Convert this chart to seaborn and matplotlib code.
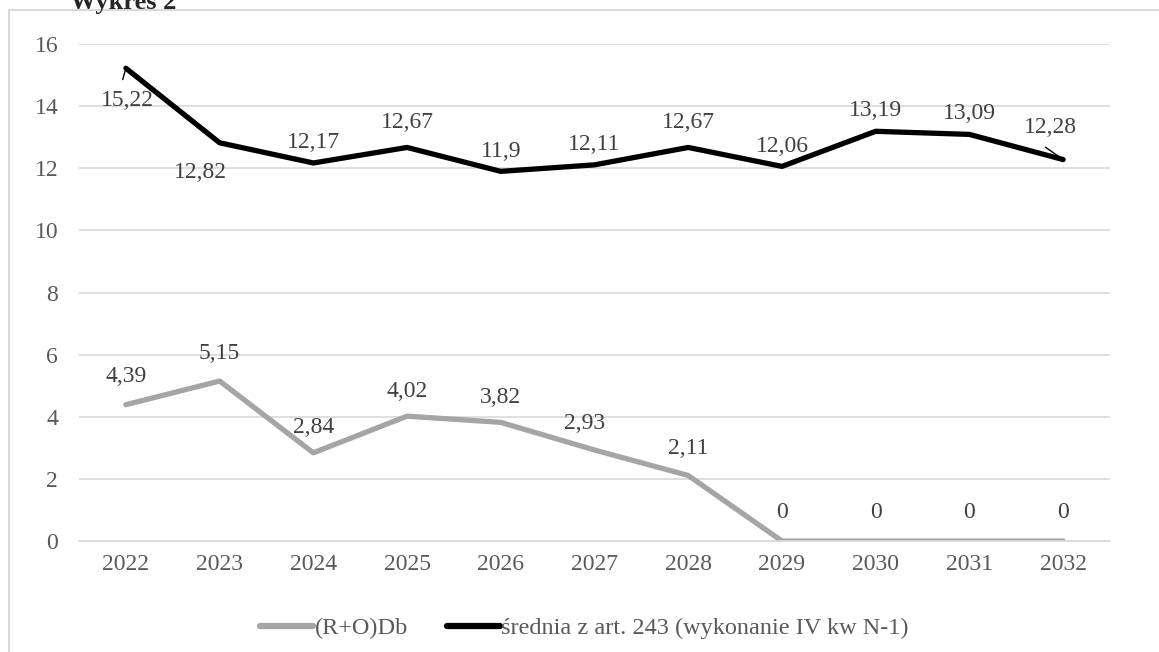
import pandas as pd
import numpy as np
import matplotlib.pyplot as plt
import matplotlib.patches as mpatches
import seaborn as sns

# values
years = ["2022", "2023", "2024", "2025", "2026", "2027", "2028", "2029", "2030", "2031", "2032"]
rodb = [4.39, 5.15, 2.84, 4.02, 3.82, 2.93, 2.11, 0, 0, 0, 0]
srednia = [15.22, 12.82, 12.17, 12.67, 11.9, 12.11, 12.67, 12.06, 13.19, 13.09, 12.28]
series_names = ["(R+O)Db", "średnia z art. 243 (wykonanie IV kw N-1)"]
y_ticks = [0, 2, 4, 6, 8, 10, 12, 14, 16]

df = pd.DataFrame({
    "Rok": years * 2,
    "Wartość": rodb + srednia,
    "Seria": [series_names[0]] * len(years) + [series_names[1]] * len(years),
})

sns.set_style("white")
plt.rcParams["font.family"] = ["Liberation Serif", "DejaVu Serif"]

fig = plt.figure(figsize=(11.59, 6.52), dpi=100)
ax = fig.add_axes([0.0682, 0.1702, 0.8895, 0.7623])

sns.lineplot(data=df, x="Rok", y="Wartość", hue="Seria", sort=False,
             palette=["#A5A5A5", "#000000"], linewidth=3.8, ax=ax,
             solid_capstyle="round", solid_joinstyle="round")

ax.set_xlim(-0.5, len(years) - 0.5)
ax.set_ylim(0, 16)
ax.set_yticks(y_ticks)
ax.set_yticklabels([str(t) for t in y_ticks])
ax.yaxis.grid(True, color="#D9D9D9", linewidth=1.2)
ax.set_axisbelow(True)
for s in ["top", "right", "left"]:
    ax.spines[s].set_visible(False)
ax.spines["bottom"].set_color("#D9D9D9")
ax.spines["bottom"].set_linewidth(1.2)
ax.tick_params(axis="both", length=0, labelsize=17, labelcolor="#595959")
ax.tick_params(axis="x", pad=9)
ax.tick_params(axis="y", pad=15)
ax.set_xlabel("")
ax.set_ylabel("")

def fmt(v):
    return ("%g" % v).replace(".", ",")

# data labels (offsets in pixels)
gray_off = [(0, 28), (0, 28), (0, 25), (0, 25), (0, 25), (-10, 27), (0, 27), (0, 29), (0, 29), (0, 29), (0, 29)]
black_off = [(2, -32), (-19, -30), (0, 20), (0, 25), (0, 20), (0, 20), (0, 25), (0, 20), (0, 21), (0, 21), (-13, 32)]
for i, v in enumerate(rodb):
    ax.annotate(fmt(v), (i, v), xytext=gray_off[i], textcoords="offset pixels",
                ha="center", va="center", fontsize=17, color="#404040")
for i, v in enumerate(srednia):
    ax.annotate(fmt(v), (i, v), xytext=black_off[i], textcoords="offset pixels",
                ha="center", va="center", fontsize=17, color="#404040")
# leader lines
ax.annotate("", (0, srednia[0]), xytext=(-4, -14), textcoords="offset pixels",
            arrowprops=dict(arrowstyle="-", color="black", lw=1))
ax.annotate("", (10, srednia[10]), xytext=(-20, 14), textcoords="offset pixels",
            arrowprops=dict(arrowstyle="-", color="black", lw=1))

leg = ax.legend(loc="center", bbox_to_anchor=(0.49, -0.175), ncol=2, frameon=False,
                fontsize=17.5, handlelength=2.2, handletextpad=0.05, columnspacing=1.6)
for t in leg.get_texts():
    t.set_color("#595959")
for h in leg.get_lines():
    h.set_linewidth(4.5)

# outer chart border
fig.patches.append(mpatches.Rectangle((0.0078, -0.1), 1.2, 1.0847, transform=fig.transFigure,
                                      fill=False, edgecolor="#D9D9D9", linewidth=1.5))
fig.text(0.060, 0.986, "Wykres 2", fontsize=19, fontweight="bold", va="baseline", ha="left")

plt.savefig("out.png", dpi=100)
